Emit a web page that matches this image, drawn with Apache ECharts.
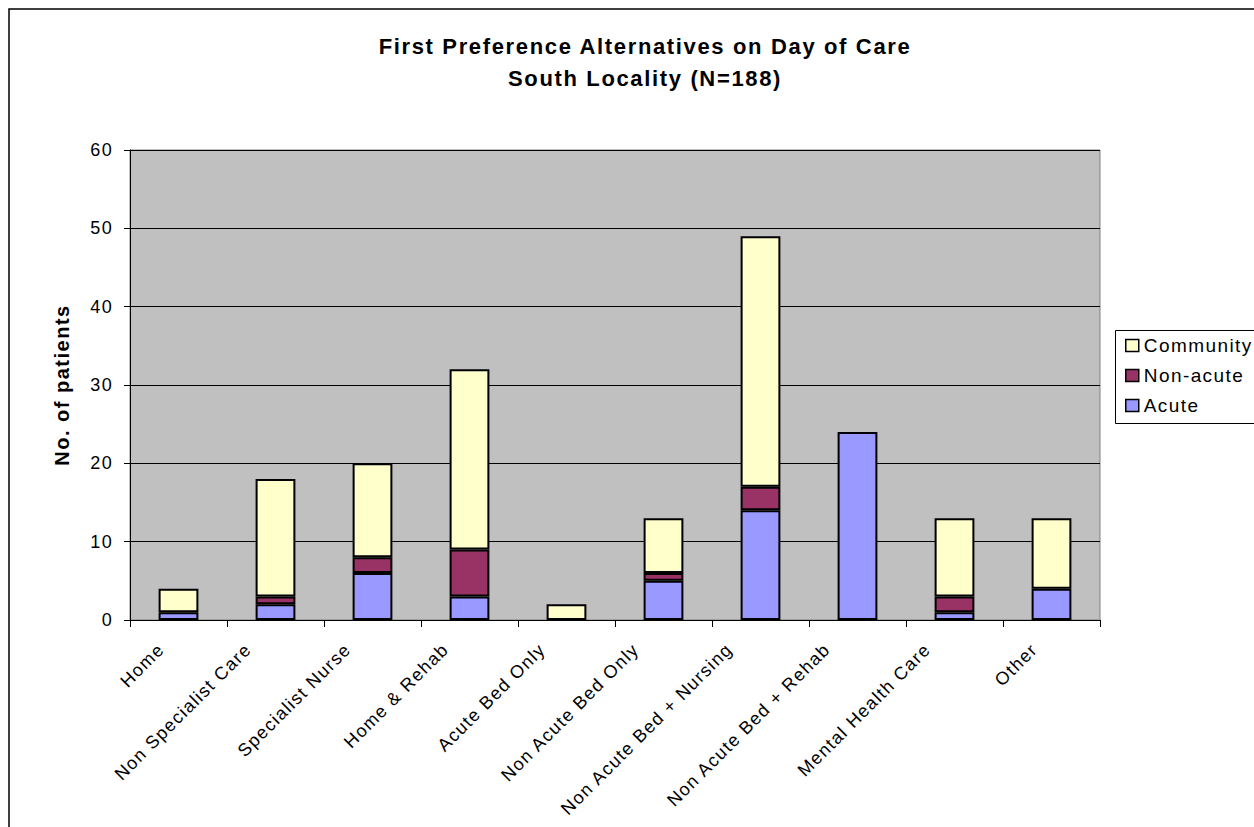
<!DOCTYPE html>
<html>
<head>
<meta charset="utf-8">
<script src="https://cdn.jsdelivr.net/npm/echarts@6/dist/echarts.min.js"></script>
<style>
  html, body { margin: 0; padding: 0; background: #fff; }
  #chart { width: 1254px; height: 827px; }
  /* slightly open tracking on every label */
  #chart text { letter-spacing: 0.075em; }
</style>
</head>
<body>
<div id="chart"></div>
<script>
// Alternatives to the acute bed, grouped by care setting
const categories = [
  'Home', 'Non Specialist Care', 'Specialist Nurse', 'Home & Rehab',
  'Acute Bed Only', 'Non Acute Bed Only', 'Non Acute Bed + Nursing',
  'Non Acute Bed + Rehab', 'Mental Health Care', 'Other'
];
const acute     = [1, 2, 6, 3, 0, 5, 14, 24, 1, 4];
const nonAcute  = [0, 1, 2, 6, 0, 1, 3, 0, 2, 0];
const community = [3, 15, 12, 23, 2, 7, 32, 0, 10, 9];
const yTicks = [0, 10, 20, 30, 40, 50, 60];

const font = 'Liberation Sans, Arial, sans-serif';
const labelSize = 18;

// Slanted category labels sit a little left of their tick, further for longer text.
const measureCtx = document.createElement('canvas').getContext('2d');
measureCtx.font = labelSize + 'px ' + font;
const labelRich = {};
categories.forEach((name, i) => {
  const w = measureCtx.measureText(name).width;
  const shift = 18.5 + 0.09 * w;
  const padRight = (shift + 2) / 2 / 0.707;
  const padBottom = Math.max(0, (shift - 13) / 2 / 0.354);
  labelRich['c' + i] = {
    fontFamily: font, fontSize: labelSize, color: '#000',
    padding: [0, padRight, padBottom, 0]
  };
});

const chart = echarts.init(document.getElementById('chart'), null, { renderer: 'svg' });

function barSeries(name, data, color) {
  return {
    name: name,
    type: 'bar',
    stack: 'total',
    barWidth: '41%',
    data: data.map(v => (v === 0 ? null : v)),
    itemStyle: { color: color, borderColor: '#000', borderWidth: 2 },
    emphasis: { disabled: true }
  };
}

chart.setOption({
  animation: false,
  backgroundColor: '#fff',
  textStyle: { fontFamily: font },
  graphic: [{
    type: 'rect',
    shape: { x: 9, y: 9, width: 1300, height: 900 },
    style: { fill: 'none', stroke: '#000', lineWidth: 1.5 },
    silent: true,
    z: -1
  }, {
    // legend frame, running off the right edge
    type: 'rect',
    shape: { x: 1115.5, y: 330.5, width: 200, height: 93 },
    style: { fill: '#fff', stroke: '#000', lineWidth: 1 },
    silent: true,
    z: 0
  }],
  title: {
    text: 'First Preference Alternatives on Day of Care\nSouth Locality (N=188)',
    left: 640,
    textAlign: 'center',
    top: 25,
    textStyle: { fontFamily: font, fontSize: 22, fontWeight: 'bold', color: '#000', lineHeight: 32 }
  },
  legend: {
    orient: 'vertical',
    left: 1115,
    top: 330,
    padding: [6, 10, 7, 10],
    itemGap: 11,
    itemWidth: 13,
    itemHeight: 12,
    borderWidth: 0,
    z: 10,
    icon: 'rect',
    data: ['Community', 'Non-acute', 'Acute'],
    textStyle: { fontFamily: font, fontSize: 19, color: '#000' },
    itemStyle: { borderColor: '#000', borderWidth: 1.5 }
  },
  grid: { left: 130, right: 154, top: 150, bottom: 207, backgroundColor: '#c0c0c0', show: true, borderColor: '#808080', borderWidth: 1 },
  xAxis: {
    type: 'category',
    data: categories,
    boundaryGap: true,
    axisLine: { lineStyle: { color: '#000', width: 1 } },
    axisTick: { show: true, length: 7, lineStyle: { color: '#000' } },
    axisLabel: {
      rotate: 45, interval: 0, margin: 19,
      fontFamily: font, fontSize: labelSize, color: '#000',
      formatter: (value, index) => '{c' + index + '|' + value + '}',
      rich: labelRich
    }
  },
  yAxis: {
    type: 'value',
    min: yTicks[0],
    max: yTicks[yTicks.length - 1],
    interval: 10,
    name: 'No. of patients',
    nameLocation: 'middle',
    nameGap: 58,
    nameTextStyle: { fontFamily: font, fontSize: 20, fontWeight: 'bold', color: '#000' },
    axisLine: { show: true, lineStyle: { color: '#000' } },
    axisTick: { show: true, length: 6, lineStyle: { color: '#000' } },
    axisLabel: { fontFamily: font, fontSize: 18, color: '#000', margin: 17 },
    splitLine: { lineStyle: { color: '#000', width: 1 } }
  },
  series: [
    barSeries('Acute', acute, '#9999ff'),
    barSeries('Non-acute', nonAcute, '#993366'),
    barSeries('Community', community, '#ffffcc')
  ]
});
</script>
</body>
</html>
